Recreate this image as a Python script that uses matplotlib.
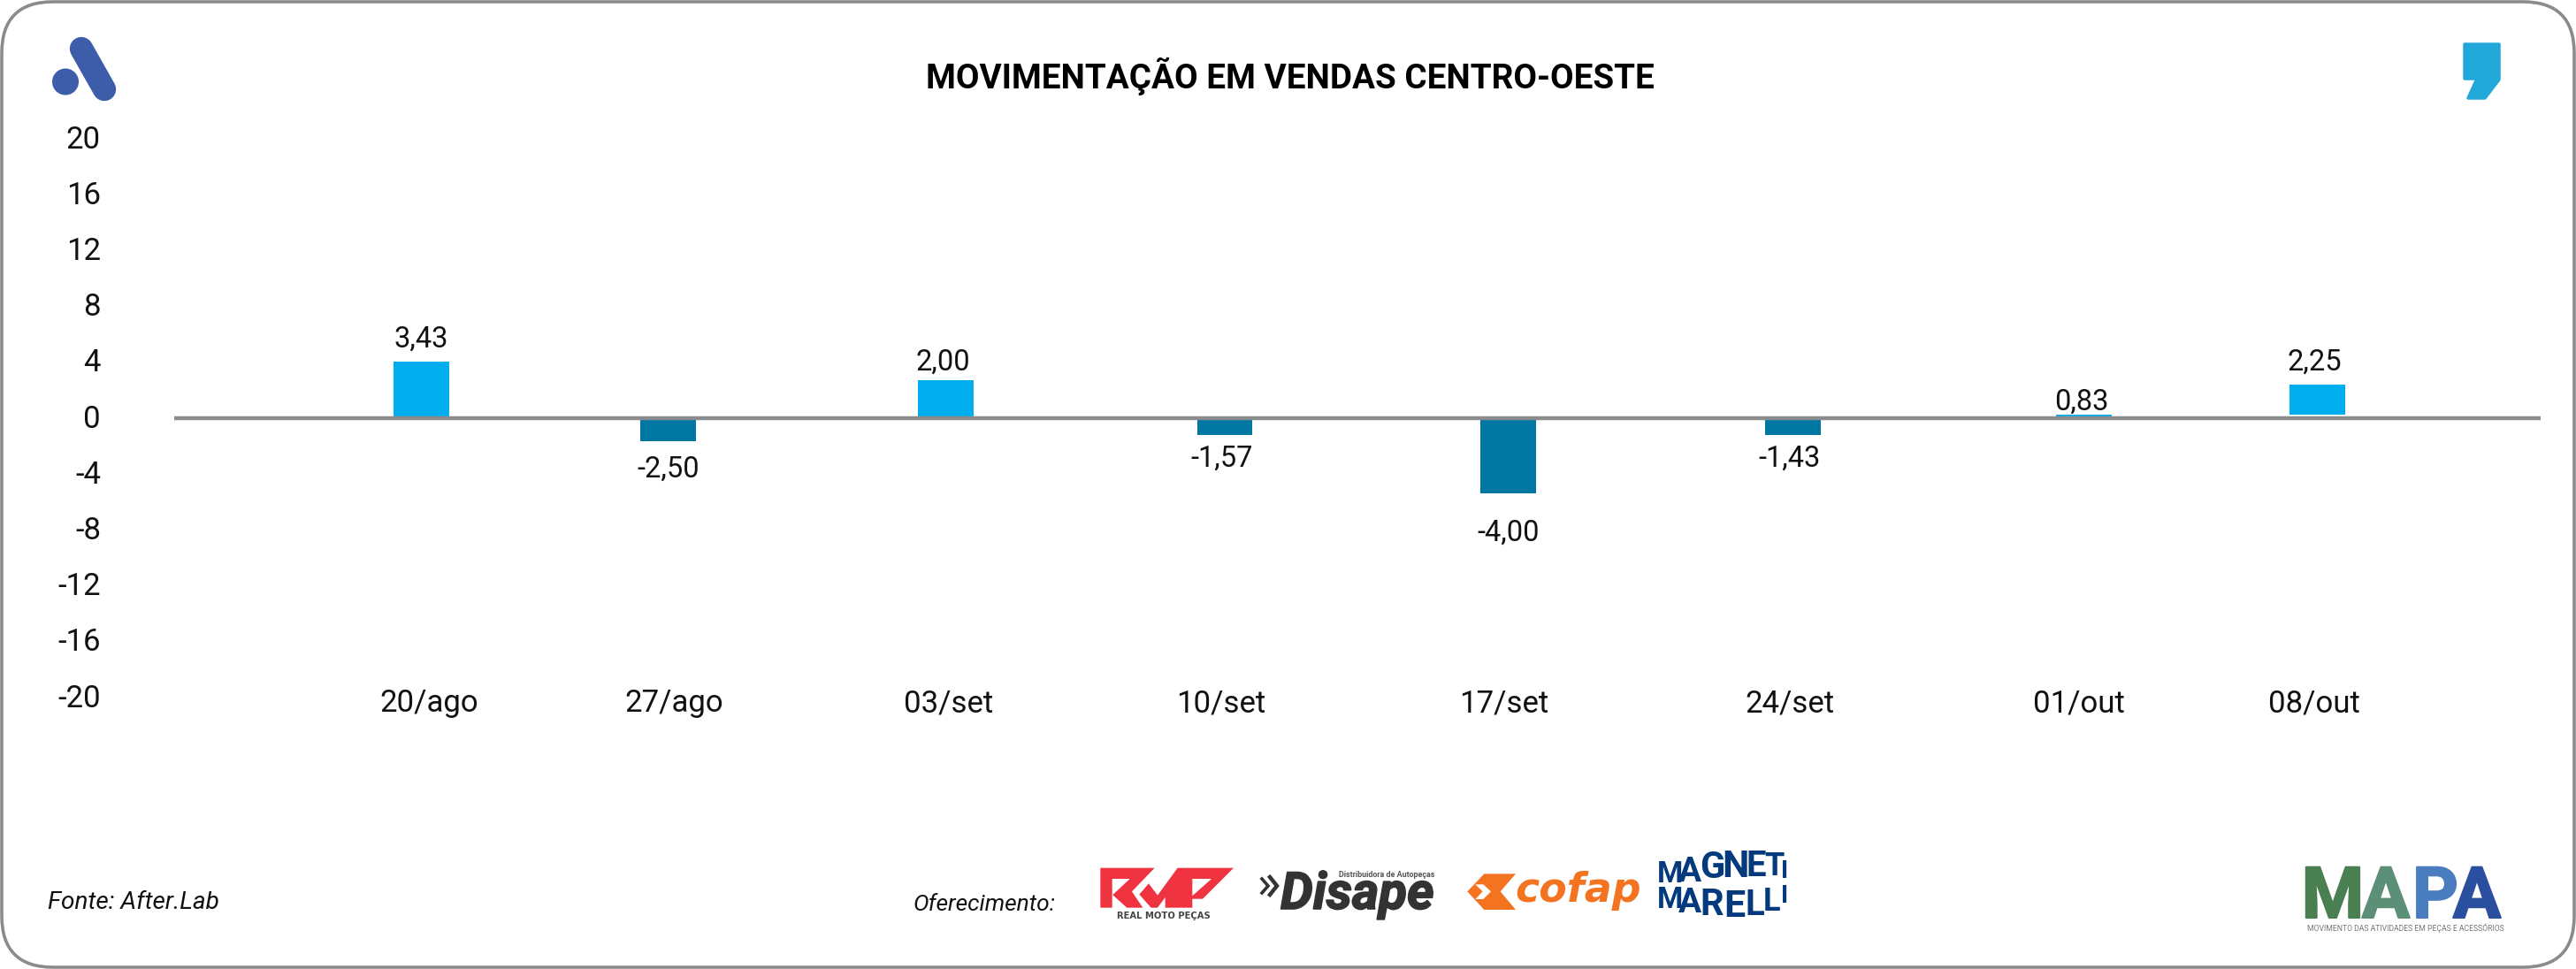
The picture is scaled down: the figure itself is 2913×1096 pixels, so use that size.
import matplotlib
matplotlib.use("Agg")
import matplotlib.pyplot as plt
from matplotlib.patches import FancyBboxPatch, Polygon, Circle
from matplotlib.transforms import ScaledTranslation
import matplotlib.patheffects as pe

plt.rcParams['font.family'] = ['Roboto', 'DejaVu Sans']

W, H = 2913, 1096
NARROW = ['Liberation Sans Narrow', 'Roboto']

# --- data ---
semanas = ["20/ago", "27/ago", "03/set", "10/set", "17/set", "24/set", "01/out", "08/out"]
pos_barras = [0, 0.89, 1.89, 2.895, 3.915, 4.94, 5.99, 6.83]
pos_semanas = [0.03, 0.91, 1.90, 2.88, 3.90, 4.93, 5.97, 6.82]
barras = [4.05, -1.65, 2.72, -1.2, -5.38, -1.2, 0.25, 2.15]
bases = [0, 0, 0, 0, 0, 0, 0, 0.25]
rotulos = ["3,43", "-2,50", "2,00", "-1,57", "-4,00", "-1,43", "0,83", "2,25"]
pos_rotulos = [0, 0.89, 1.88, 2.885, 3.915, 4.93, 5.98, 6.82]
alt_rotulos = [5.1, -4.25, 3.46, -3.44, -8.76, -3.44, 0.61, 3.46]
escala = [20, 16, 12, 8, 4, 0, -4, -8, -12, -16, -20]

AZUL = '#00aeef'
AZUL_ESCURO = '#0077a3'
CINZA = '#8a8b8d'

fig = plt.figure(figsize=(W / 100, H / 100), dpi=100, facecolor='white')

# overlay in pixel coordinates for frame and logos
bg = fig.add_axes([0, 0, 1, 1])
bg.set_xlim(0, W)
bg.set_ylim(H, 0)
bg.axis('off')

bg.add_patch(FancyBboxPatch((2, 2), W - 4, H - 4, boxstyle="round,pad=0,rounding_size=58",
                            fc='white', ec=CINZA, lw=2.6))

# --- chart ---
ax = fig.add_axes([197 / W, 1 - 789 / H, (2873 - 197) / W, (789 - 157) / H])
ax.patch.set_alpha(0)
ax.set_xlim(-0.889, 7.634)
ax.set_ylim(-20, 20)
for s in ax.spines.values():
    s.set_visible(False)

cores = [AZUL if v > 0 else AZUL_ESCURO for v in barras]
ax.bar(pos_barras, barras, width=0.2, bottom=bases, color=cores, zorder=2)
ax.axhline(0, color=CINZA, lw=3.2, zorder=3)

for x, y, t in zip(pos_rotulos, alt_rotulos, rotulos):
    ax.text(x, y, t, ha='center', va='baseline', fontsize=23.5, color='#111111', zorder=4)

ax.set_yticks(escala, [str(v) for v in escala])
ax.tick_params(axis='y', length=0, pad=59.8, labelsize=25, labelcolor='#111111')
# the tick numbers sit a little above the level they stand for
for lab in ax.get_yticklabels():
    lab.set_transform(lab.get_transform() + ScaledTranslation(0, 2.5 / 100, fig.dpi_scale_trans))
ax.set_xticks(pos_semanas, semanas)
ax.tick_params(axis='x', length=0, pad=-7, labelsize=25, labelcolor='#111111')

# --- texts in the frame ---
bg.text(1459, 100, "MOVIMENTAÇÃO EM VENDAS CENTRO-OESTE", ha='center', va='baseline',
        fontsize=27.8, fontweight='bold', color='black')
bg.text(54, 1028, "Fonte: After.Lab", ha='left', va='baseline', fontsize=20.2,
        fontstyle='italic', color='#111111')
bg.text(1033, 1030, "Oferecimento:", ha='left', va='baseline', fontsize=19,
        fontstyle='italic', color='#111111')

# --- After logo ---
bg.plot([92, 118], [55, 101], color='#3d5caa', lw=19, solid_capstyle='round')
bg.add_patch(Circle((74, 92.5), 15, color='#3d5caa', lw=0))

# --- comma logo ---
bg.add_patch(Polygon([(2787, 50), (2826, 50), (2826, 90), (2810, 111), (2791, 111),
                      (2801, 89), (2787, 89)], closed=True, fc='#22a7d9', ec='#22a7d9',
                     lw=2.5, joinstyle='round'))


# --- RMP logo ---
def z11(pts):
    return [(1235 + x / 3, 970 + y / 3) for x, y in pts]


VERMELHO = '#ef3340'
bg.add_patch(Polygon(z11([(28, 35), (212, 35), (135, 115), (172, 170), (118, 170), (68, 125),
                          (68, 170), (28, 170)]), fc=VERMELHO, lw=0))
bg.add_patch(Polygon(z11([(68, 72), (128, 72), (68, 128)]), fc='white', lw=0))
bg.add_patch(Polygon(z11([(192, 88), (222, 128), (290, 35), (300, 35), (300, 170), (248, 170),
                          (248, 135), (222, 170), (200, 170), (160, 125)]), fc=VERMELHO, lw=0))
bg.add_patch(Polygon(z11([(300, 35), (480, 35), (375, 140), (340, 140), (340, 170),
                          (300, 170)]), fc=VERMELHO, lw=0))
bg.add_patch(Polygon(z11([(340, 72), (405, 72), (340, 130)]), fc='white', lw=0))
bg.text(1316, 1039, "REAL MOTO PEÇAS", ha='center', va='baseline', fontsize=7.2,
        family='DejaVu Sans', fontweight='bold', color='#444444')

# --- Disape logo ---
ESCURO = '#333333'
bg.plot([1427, 1434, 1427], [994, 1002, 1010], color=ESCURO, lw=2.6, solid_joinstyle='miter')
bg.plot([1436, 1444, 1436], [992, 1002, 1012], color=ESCURO, lw=3.2, solid_joinstyle='miter')
bg.text(1448, 1028, "Disape", ha='left', va='baseline', fontsize=42, fontweight='bold',
        fontstyle='italic', color=ESCURO,
        path_effects=[pe.withStroke(linewidth=1.2, foreground=ESCURO)])
bg.text(1622, 992, "Distribuidora de Autopeças", ha='right', va='baseline', fontsize=6.4,
        fontweight='bold', color='#555555')


# --- Cofap logo ---
def z12(pts):
    return [(1650 + x / 3, 955 + y / 3) for x, y in pts]


LARANJA = '#f47321'
bg.add_patch(Polygon(z12([(85, 100), (192, 100), (140, 160), (192, 222), (85, 222), (28, 160)]),
                     fc=LARANJA, lw=0))
bg.add_patch(Polygon(z12([(55, 136), (82, 136), (108, 160), (82, 186), (55, 186), (80, 160)]),
                     fc='white', lw=0))
bg.text(1713, 1020, "cofap", ha='left', va='baseline', fontsize=33, family='DejaVu Sans',
        fontweight='bold', fontstyle='italic', color=LARANJA)

# --- Magneti Marelli logo, one letter at a time so the rows can bulge ---
AZUL_MM = '#043a7d'
tamanhos_mm = [24, 28, 30, 31, 29, 26, 20]
linha1 = [("M", 1888, 998), ("A", 1911, 997), ("G", 1936, 993), ("N", 1962, 992),
          ("E", 1986, 991), ("T", 2006, 990), ("I", 2018, 993)]
linha2 = [("M", 1888, 1027), ("A", 1911, 1032), ("R", 1936, 1035), ("E", 1961, 1037),
          ("L", 1984, 1035), ("L", 2004, 1030), ("I", 2018, 1021)]
for linha in (linha1, linha2):
    for (c, x, y), tam in zip(linha, tamanhos_mm):
        bg.text(x, y, c, ha='center', va='baseline', fontsize=tam, family=NARROW,
                fontweight='bold', color=AZUL_MM)

# --- MAPA logo ---
letras_mapa = [("M", 2638, '#4a7f52'), ("A", 2698, '#5b8f78'), ("P", 2754, '#4a7cc0'), ("A", 2801, '#2a4f9e')]
for c, x, cor in letras_mapa:
    bg.text(x, 1038, c, ha='center', va='baseline', fontsize=58, family=NARROW,
            fontweight='bold', color=cor,
            path_effects=[pe.withStroke(linewidth=1.5, foreground=cor)])
bg.text(2720, 1053, "MOVIMENTO DAS ATIVIDADES EM PEÇAS E ACESSÓRIOS", ha='center', va='baseline',
        fontsize=6.2, color='#777777')

fig.savefig("out.png", dpi=100)
